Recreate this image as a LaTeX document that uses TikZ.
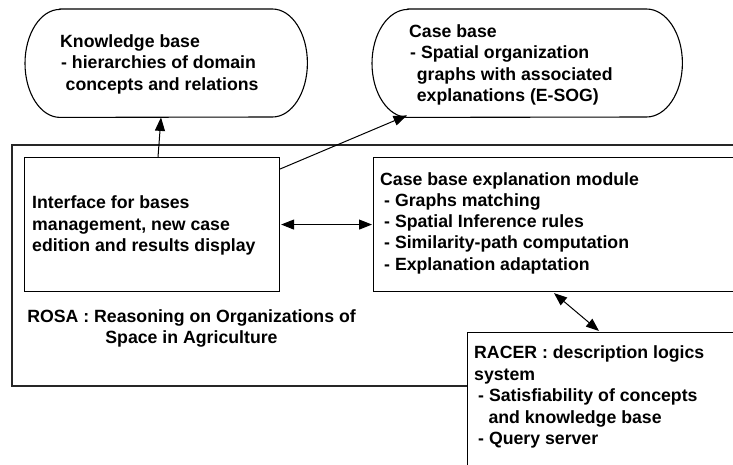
\documentclass[tikz,border=0pt]{standalone}
\usepackage{fontspec}
\setmainfont{Liberation Sans}
\usetikzlibrary{arrows.meta}

\tikzset{
  box/.style={draw=black, line width=1.1pt, fill=white, rectangle, inner sep=0pt, anchor=north west},
  frame/.style={draw=black!85, line width=1.5pt, rectangle, inner sep=0pt, anchor=north west},
  area/.style={rectangle, inner sep=0pt, anchor=north west},
  pill/.style={draw=black, line width=1.1pt},
  txt/.style={anchor=base west, inner sep=0pt, font=\bfseries\fontsize{17.7}{21.4}\selectfont},
  ctxt/.style={txt, anchor=base},
  link/.style={line width=1pt, -{Triangle[length=13.5pt,width=10pt]}},
  dlink/.style={line width=1pt, {Triangle[length=13pt,width=10pt]}-{Triangle[length=13pt,width=10pt]}}
}

\begin{document}
\begin{tikzpicture}[x=1pt,y=-1pt]
\useasboundingbox (0,0) rectangle (733,464);
\fill[white] (0,0) rectangle (733,464);
\clip (0,0) rectangle (733,464);

% ROSA system frame (runs past the right edge)
\node[frame, minimum width=740pt, minimum height=241pt] (rosa) at (11,144) {};

% knowledge base and case base (pill shapes)
\node[area, minimum width=282pt, minimum height=108pt] (kb) at (25,9) {};
\draw[pill] ([xshift=35pt]kb.north west) -- ([xshift=-35pt]kb.north east)
  arc[start angle=-90, end angle=90, x radius=35, y radius=54]
  -- ([xshift=35pt]kb.south west)
  arc[start angle=90, end angle=270, x radius=35, y radius=54] -- cycle;

\node[area, minimum width=310pt, minimum height=108pt] (cb) at (372,9) {};
\draw[pill] ([xshift=36pt]cb.north west) -- ([xshift=-36pt]cb.north east)
  arc[start angle=-90, end angle=90, x radius=36, y radius=54]
  -- ([xshift=36pt]cb.south west)
  arc[start angle=90, end angle=270, x radius=36, y radius=54] -- cycle;

% inner modules
\node[box, minimum width=255pt, minimum height=134pt] (iface) at (24,157) {};
\node[box, minimum width=380pt, minimum height=134pt] (expl) at (373,157) {};
\node[box, minimum width=300pt, minimum height=160pt] (racer) at (467,332) {};

% texts
\node[txt] (kbt1) at (60,47) {Knowledge base};
\node[txt] (kbt2) at (61,68.5) {- hierarchies of domain};
\node[txt] (kbt3) at (65.5,90) {concepts and relations};

\node[txt] (cbt1) at (409,37.3) {Case base};
\node[txt] (cbt2) at (410,58.5) {- Spatial organization};
\node[txt] (cbt3) at (416.7,80) {graphs with associated};
\node[txt] (cbt4) at (416.7,101) {explanations (E-SOG)};

\node[txt] (ift1) at (32,208.3) {Interface for bases};
\node[txt] (ift2) at (32,230) {management, new case};
\node[txt] (ift3) at (32,251.7) {edition and results display};

\node[txt] (ext1) at (380,185) {Case base explanation module};
\node[txt] (ext2) at (384,206.3) {- Graphs matching};
\node[txt] (ext3) at (384,227.5) {- Spatial Inference rules};
\node[txt] (ext4) at (384,248.7) {- Similarity-path computation};
\node[txt] (ext5) at (384,270) {- Explanation adaptation};

\node[ctxt] (rst1) at (191.5,322.3) {ROSA : Reasoning on Organizations of};
\node[ctxt] (rst2) at (191.5,343.5) {Space in Agriculture};

\node[txt] (rct1) at (474,358.3) {RACER : description logics};
\node[txt] (rct2) at (474,380) {system};
\node[txt] (rct3) at (478,401.7) {- Satisfiability of concepts};
\node[txt] (rct4) at (488.3,423.3) {and knowledge base};
\node[txt] (rct5) at (478,444) {- Query server};

% connector end points on the node borders
\coordinate (ifaceTop) at ([xshift=134pt]iface.north west);
\coordinate (kbBottom) at ([xshift=136pt]kb.south west);
\coordinate (ifaceCorner) at ([yshift=-12pt]iface.north east);
\coordinate (cbFoot) at ([xshift=35pt,yshift=2pt]cb.south west);
\coordinate (ifaceRight) at ([xshift=1pt]iface.east);
\coordinate (explLeft) at ([xshift=-1pt]expl.west |- ifaceRight);
\coordinate (explFoot) at ([xshift=181pt,yshift=-1pt]expl.south west);
\coordinate (racerTop) at ([xshift=132pt,yshift=1pt]racer.north west);

% connectors
\draw[link] (ifaceTop) -- (kbBottom);
\draw[link] (ifaceCorner) -- (cbFoot);
\draw[dlink] (ifaceRight) -- (explLeft);
\draw[dlink] (explFoot) -- (racerTop);
\end{tikzpicture}
\end{document}
